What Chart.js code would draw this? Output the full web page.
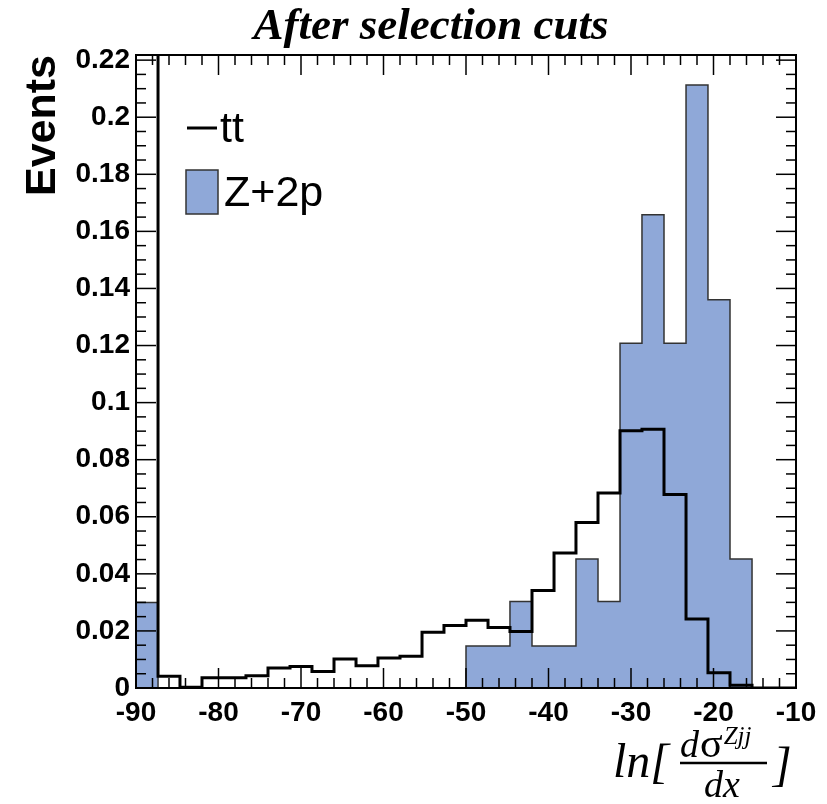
<!DOCTYPE html>
<html>
<head>
<meta charset="utf-8">
<script src="https://cdn.jsdelivr.net/npm/chart.js@4.4.1/dist/chart.umd.min.js"></script>
<style>
  html, body { margin: 0; padding: 0; background: #fff; }
  #wrap { width: 827px; height: 804px; }
</style>
</head>
<body>
<div id="wrap"><canvas id="hist" width="827" height="804"></canvas></div>
<script>
// Histogram bin edges (30 bins, width 8/3) and per-bin contents.
const BIN_EDGES = [-90, -87.33, -84.67, -82, -79.33, -76.67, -74, -71.33, -68.67, -66,
  -63.33, -60.67, -58, -55.33, -52.67, -50, -47.33, -44.67, -42, -39.33,
  -36.67, -34, -31.33, -28.67, -26, -23.33, -20.67, -18, -15.33, -12.67, -10];

// tt: first bin is far off scale
const TT_VALUES = [0.35, 0.0041, 0.0003, 0.0036, 0.0036, 0.0043, 0.0070, 0.0075, 0.0058, 0.0102,
  0.0078, 0.0105, 0.0111, 0.0195, 0.0219, 0.0237, 0.0212, 0.0198, 0.0342, 0.0473,
  0.0580, 0.0683, 0.0901, 0.0907, 0.0678, 0.0242, 0.0053, 0.0010, 0, 0];

const Z2P_VALUES = [0.0300, 0, 0, 0, 0, 0, 0, 0, 0, 0,
  0, 0, 0, 0, 0, 0.0147, 0.0147, 0.0303, 0.0147, 0.0147,
  0.0452, 0.0303, 0.1208, 0.1658, 0.1208, 0.2113, 0.1360, 0.0452, 0, 0];

const SERIES_LABELS = ["tt", "Z+2p"];

const X_MIN = -90, X_MAX = -10, X_MAJOR = 10, X_MINOR = 2;
const Y_MIN = 0, Y_MAX = 0.2218, Y_MAJOR = 0.02, Y_MINOR = 0.005;

const TITLE = "After selection cuts";
const Y_TITLE = "Events";

const BLUE = "#8fa8d8";
const SANS = '"Liberation Sans", Arial, Helvetica, sans-serif';
const SERIF = '"Liberation Serif", "Times New Roman", Times, serif';

// points at left bin edges, plus a closing point at the last edge
function toSteps(values) {
  return BIN_EDGES.map((x, i) => ({ x, y: i < values.length ? values[i] : 0 }));
}

// ─── ROOT-style frame: box with inward ticks on all four sides ───────────────
const frameTicks = {
  id: "frameTicks",
  afterDatasetsDraw(chart) {
    const { ctx, chartArea: a, scales } = chart;
    const xs = scales.x, ys = scales.y;
    const seg = (x1, y1, x2, y2) => {
      ctx.beginPath();
      ctx.moveTo(x1, y1);
      ctx.lineTo(x2, y2);
      ctx.stroke();
    };
    ctx.save();
    ctx.strokeStyle = "#000";
    ctx.lineWidth = 1.5;

    const nx = Math.round((X_MAX - X_MIN) / X_MINOR);
    for (let i = 0; i <= nx; i++) {
      const v = X_MIN + i * X_MINOR;
      const px = xs.getPixelForValue(v);
      const major = Math.abs(v / X_MAJOR - Math.round(v / X_MAJOR)) < 1e-6;
      const len = major ? 20 : 10;
      seg(px, a.bottom, px, a.bottom - len);
      seg(px, a.top, px, a.top + len);
    }
    const ny = Math.floor((Y_MAX - Y_MIN) / Y_MINOR + 1e-6);
    for (let i = 0; i <= ny; i++) {
      const v = Y_MIN + i * Y_MINOR;
      const py = ys.getPixelForValue(v);
      const major = Math.abs(v / Y_MAJOR - Math.round(v / Y_MAJOR)) < 1e-6;
      const len = major ? 20 : 10;
      seg(a.left, py, a.left + len, py);
      seg(a.right, py, a.right - len, py);
    }

    ctx.lineWidth = 2;
    ctx.strokeRect(a.left, a.top, a.right - a.left, a.bottom - a.top);
    ctx.restore();
  },
};

// ─── Titles, legend and the LaTeX-ish x-axis title ───────────────────────────
const annotations = {
  id: "annotations",
  afterDraw(chart) {
    const { ctx, chartArea: a } = chart;
    const ds = chart.data.datasets;
    ctx.save();
    ctx.fillStyle = "#000";
    ctx.textBaseline = "alphabetic";

    // main title
    ctx.font = `italic bold 45px ${SERIF}`;
    ctx.textAlign = "center";
    ctx.fillText(TITLE, 431, 39);

    // y title, rotated, flush with the top of the frame
    ctx.save();
    ctx.translate(55, a.top);
    ctx.rotate(-Math.PI / 2);
    ctx.font = `bold 43px ${SANS}`;
    ctx.textAlign = "right";
    ctx.fillText(Y_TITLE, 0, 0);
    ctx.restore();

    // legend
    const lx = a.left + 50;
    ctx.strokeStyle = ds[0].borderColor;
    ctx.lineWidth = 3;
    ctx.beginPath();
    ctx.moveTo(lx + 1, 128);
    ctx.lineTo(lx + 31, 128);
    ctx.stroke();
    ctx.font = `43px ${SANS}`;
    ctx.textAlign = "left";
    ctx.fillText(ds[0].label, lx + 34, 142);

    ctx.fillStyle = ds[1].backgroundColor;
    ctx.fillRect(lx, 170, 32, 44);
    ctx.strokeStyle = ds[1].borderColor;
    ctx.lineWidth = 1.5;
    ctx.strokeRect(lx, 170, 32, 44);
    ctx.fillStyle = "#000";
    ctx.fillText(ds[1].label, lx + 38, 206);

    // x title: ln[ dσ^Zjj / dx ]
    ctx.textAlign = "left";
    ctx.font = `italic 48px ${SERIF}`;
    ctx.fillText("ln[", 613, 777);
    ctx.font = `italic 38px ${SERIF}`;
    ctx.fillText("d", 680, 757);
    let cx = 680 + ctx.measureText("d").width + 1;
    ctx.font = `42px ${SERIF}`;
    ctx.fillText("σ", cx, 757);
    cx += ctx.measureText("σ").width + 1;
    ctx.font = `italic 25px ${SERIF}`;
    ctx.fillText("Zjj", cx, 744);
    ctx.font = `italic 38px ${SERIF}`;
    ctx.fillText("dx", 704, 797);
    ctx.font = `italic 48px ${SERIF}`;
    ctx.fillText("]", 773, 780);
    ctx.lineWidth = 2.5;
    ctx.strokeStyle = "#000";
    ctx.beginPath();
    ctx.moveTo(680, 763);
    ctx.lineTo(767, 763);
    ctx.stroke();

    ctx.restore();
  },
};

const tickFont = { family: SANS, size: 28, weight: "bold" };

new Chart(document.getElementById("hist"), {
  type: "line",
  data: {
    datasets: [
      {
        label: SERIES_LABELS[0],
        data: toSteps(TT_VALUES),
        stepped: true,
        fill: false,
        borderColor: "#000",
        borderWidth: 3,
        pointRadius: 0,
      },
      {
        label: SERIES_LABELS[1],
        data: toSteps(Z2P_VALUES),
        stepped: true,
        fill: "origin",
        backgroundColor: BLUE,
        borderColor: "#333",
        borderWidth: 1.5,
        pointRadius: 0,
      },
    ],
  },
  options: {
    responsive: false,
    animation: false,
    layout: { padding: { left: 0, top: 55, right: 31, bottom: 0 } },
    plugins: { legend: { display: false }, tooltip: { enabled: false }, title: { display: false } },
    scales: {
      x: {
        type: "linear",
        min: X_MIN,
        max: X_MAX,
        grid: { display: false, drawTicks: false },
        border: { display: false },
        ticks: { stepSize: X_MAJOR, color: "#000", font: tickFont, padding: 8, maxRotation: 0 },
        afterFit: (s) => { s.height = 116; },
      },
      y: {
        min: Y_MIN,
        max: Y_MAX,
        grid: { display: false, drawTicks: false },
        border: { display: false },
        ticks: {
          stepSize: Y_MAJOR,
          includeBounds: false,
          color: "#000",
          font: tickFont,
          padding: 6,
          callback: (v) => String(+v.toFixed(3)),
        },
        afterFit: (s) => { s.width = 136; },
      },
    },
  },
  plugins: [frameTicks, annotations],
});
</script>
</body>
</html>
